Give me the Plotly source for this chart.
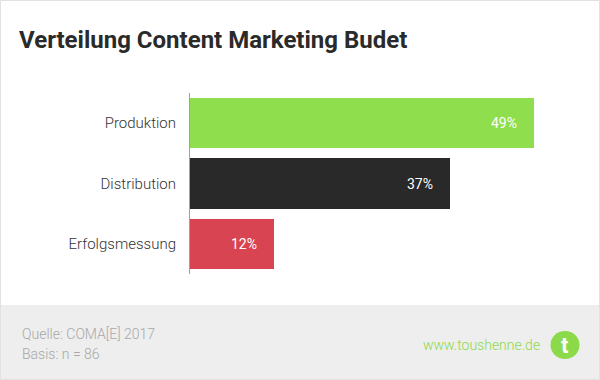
import plotly.graph_objects as go

categories = ["Produktion", "Distribution", "Erfolgsmessung"]
values = [49, 37, 12]
labels = ["49%", "37%", "12%"]
colors = ["#8fde4d", "#292929", "#d94452"]

W, H = 600, 380
L, R, T, B = 190, 66, 93, 106
PW, PH = W - L - R, H - T - B

def px(x):
    return (x - L) / PW

def py(y):
    return (H - B - y) / PH

fig = go.Figure()
fig.add_trace(go.Bar(
    y=categories, x=values, orientation="h",
    marker=dict(color=colors, line=dict(width=0)),
    width=0.83, hoverinfo="skip",
))

for c, v, t in zip(categories, values, labels):
    fig.add_annotation(x=v, y=c, text=t, showarrow=False, xanchor="right",
                       xshift=-15, font=dict(family="Roboto", size=14, color="white"))

# background panels
fig.add_shape(type="rect", xref="paper", yref="paper", x0=px(0), x1=px(600),
              y0=py(305), y1=py(380), fillcolor="#eeeeee", line=dict(width=0), layer="below")
fig.add_shape(type="rect", xref="paper", yref="paper", x0=px(0.5), x1=px(599.5),
              y0=py(0.5), y1=py(379.5), fillcolor="rgba(0,0,0,0)",
              line=dict(width=1, color="#e2e2e2"), layer="below")

# title
fig.add_annotation(xref="paper", yref="paper", x=px(17), y=py(40.5), xanchor="left", yanchor="middle",
                   text="<b>Verteilung Content Marketing Budet</b>", showarrow=False,
                   font=dict(family="Roboto", size=24, color="#2a2a2a"))
# footer texts
footer_font = dict(family="Roboto", size=14, color="#a8a8a8", weight=300)
fig.add_annotation(xref="paper", yref="paper", x=px(20), y=py(334), xanchor="left", yanchor="middle",
                   text="Quelle: COMA[E] 2017", showarrow=False, font=footer_font)
fig.add_annotation(xref="paper", yref="paper", x=px(20), y=py(354), xanchor="left", yanchor="middle",
                   text="Basis: n = 86", showarrow=False, font=footer_font)
fig.add_annotation(xref="paper", yref="paper", x=px(542), y=py(345), xanchor="right", yanchor="middle",
                   text="www.toushenne.de", showarrow=False,
                   font=dict(family="Roboto", size=14, color="#8cd94a", weight=300))
# logo
fig.add_shape(type="circle", xref="paper", yref="paper", x0=px(550.5), x1=px(579.5),
              y0=py(331), y1=py(359), fillcolor="#8cd94a", line=dict(width=0))
fig.add_annotation(xref="paper", yref="paper", x=px(565), y=py(345), xanchor="center", yanchor="middle",
                   text="<b>t</b>", showarrow=False,
                   font=dict(family="Roboto", size=22, color="white"))

fig.update_layout(
    width=W, height=H, autosize=False,
    margin=dict(l=L, r=R, t=T, b=B),
    paper_bgcolor="white", plot_bgcolor="white",
    showlegend=False, bargap=0,
    xaxis=dict(range=[0, 49], showgrid=False, zeroline=False, showticklabels=False,
               showline=False, fixedrange=True),
    yaxis=dict(autorange="reversed", showgrid=False, zeroline=False, showline=True,
               linecolor="#a0a0a0", linewidth=1, ticks="", ticklabelstandoff=10,
               tickfont=dict(family="Roboto", size=15, color="#333333", weight=300),
               fixedrange=True),
)

fig.write_html("out.html", config={"displayModeBar": False},
               post_script="document.body.style.margin='0';document.body.style.overflow='hidden';")
